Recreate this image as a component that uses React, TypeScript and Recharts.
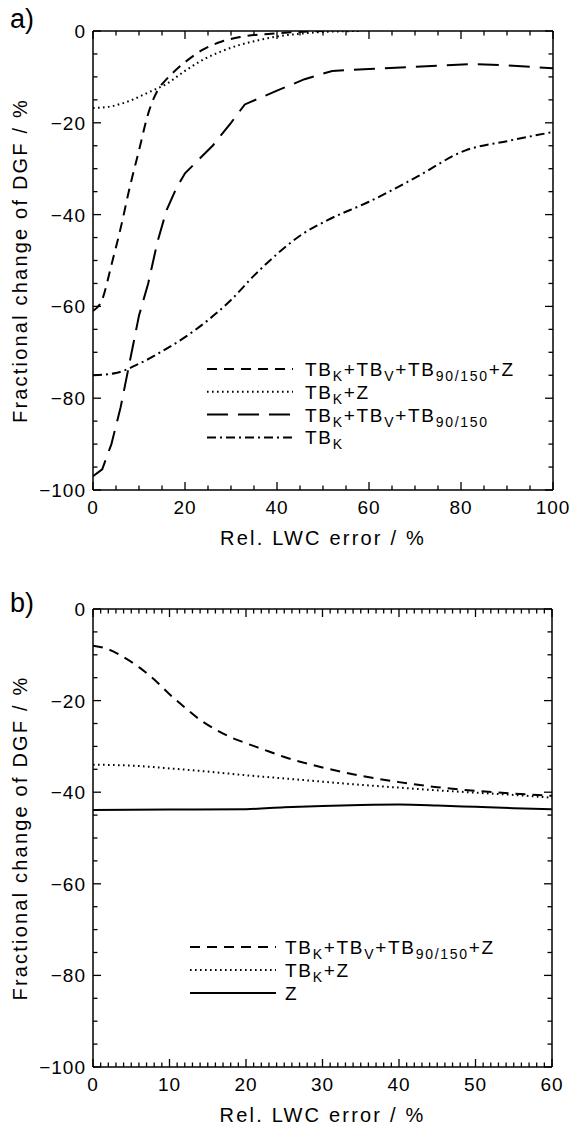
import React from "react";
import { LineChart, Line, XAxis, YAxis, Legend } from "recharts";

const FONT = "'Liberation Sans', Arial, Helvetica, sans-serif";

// ---- panel a) ----
const aAllX = [0, 2, 4, 6, 8, 10, 12, 14, 16, 18, 20, 24, 28, 32, 40, 50];
const aAllY = [-61, -58.5, -51, -43, -34, -26, -18, -13, -10.5, -8.5, -6.8, -4, -2.3, -1.3, -0.5, 0];

const aKZX = [0, 4, 8, 12, 16, 20, 24, 28, 32, 36, 40, 45, 50, 55, 58];
const aKZY = [-16.8, -16.4, -15.2, -13.4, -11.5, -8.7, -6.2, -4.4, -3, -2, -1.2, -0.6, -0.2, -0.05, 0];

const aTbX = [0, 2, 4, 6, 8, 10, 12, 14, 16, 18, 20, 22, 26, 30, 33, 40, 46, 52, 60, 70, 82, 90, 100];
const aTbY = [-97, -95.5, -90, -82, -72, -62, -55, -46, -39, -34.5, -31, -29, -25, -20, -16, -13, -10.5, -8.7, -8.3, -7.8, -7.2, -7.5, -8.1];

const aKX = [0, 5, 10, 15, 20, 25, 30, 35, 40, 45, 51, 60, 70, 81, 90, 100];
const aKY = [-75, -74.5, -72.5, -69.8, -66.7, -63, -58.6, -53.3, -48.6, -44.6, -41.2, -37.2, -32, -26, -24, -22];

const aXMajor = [0, 20, 40, 60, 80, 100];
const aXMinorStep = 5;

// ---- panel b) ----
const bAllX = [0, 2, 4, 6, 8, 10, 12, 14, 16, 18, 20, 22, 25, 30, 35, 40, 45, 50, 55, 60];
const bAllY = [-8, -8.8, -10.5, -12.7, -15.4, -18.6, -21.5, -24.2, -26.3, -28, -29.3, -30.5, -32.3, -34.6, -36.4, -37.8, -38.9, -39.7, -40.3, -40.8];

const bKZX = [0, 5, 10, 15, 20, 25, 30, 35, 40, 45, 50, 55, 60];
const bKZY = [-34, -34.2, -34.8, -35.5, -36.3, -37, -37.7, -38.4, -39, -39.6, -40.1, -40.6, -41.2];

const bZX = [0, 10, 20, 25, 30, 35, 40, 45, 50, 55, 60];
const bZY = [-43.9, -43.8, -43.7, -43.3, -43, -42.8, -42.7, -42.9, -43.2, -43.5, -43.7];

const bXMajor = [0, 10, 20, 30, 40, 50, 60];
const bXMinorStep = 1;

const yMajor = [-100, -80, -60, -40, -20, 0];
const yMinorStep = 5;

// legend labels: [text, subscript?]
type Seg = [string, boolean];
const lblAll: Seg[] = [["TB", false], ["K", true], ["+TB", false], ["V", true], ["+TB", false], ["90/150", true], ["+Z", false]];
const lblKZ: Seg[] = [["TB", false], ["K", true], ["+Z", false]];
const lblTb: Seg[] = [["TB", false], ["K", true], ["+TB", false], ["V", true], ["+TB", false], ["90/150", true]];
const lblK: Seg[] = [["TB", false], ["K", true]];
const lblZ: Seg[] = [["Z", false]];

const DASH = "10 7";
const DOT = "1.6 3.4";
const LONG = "21 10";
const DASHDOT = "9 4 2 4";

const zip = (xs: number[], ys: number[]) => xs.map((x, i) => ({ x, y: ys[i] }));

const steps = (from: number, to: number, step: number) => {
  const out: number[] = [];
  for (let v = from; v <= to + 1e-9; v += step) out.push(Math.round(v * 100) / 100);
  return out;
};

const fmt = (v: number) => (v < 0 ? `\u2212${Math.abs(v)}` : `${v}`);

function makeTick(side: "bottom" | "top" | "left" | "right", majors: number[], labels: boolean) {
  return (props: any) => {
    const { x, y, payload } = props;
    const v = payload.value;
    const major = majors.includes(v);
    const len = major ? 8 : 4.5;
    let l = { x1: x, y1: y, x2: x, y2: y };
    if (side === "bottom") l.y2 = y - len;
    if (side === "top") l.y2 = y + len;
    if (side === "left") l.x2 = x + len;
    if (side === "right") l.x2 = x - len;
    return (
      <g>
        <line {...l} stroke="#000" strokeWidth={1.3} />
        {labels && major && side === "bottom" && (
          <text x={x} y={y + 24} textAnchor="middle" fontSize={19} fontFamily={FONT} letterSpacing={1} fill="#000">
            {fmt(v)}
          </text>
        )}
        {labels && major && side === "left" && (
          <text x={x - 7} y={y + 7} textAnchor="end" fontSize={19} fontFamily={FONT} letterSpacing={1} fill="#000">
            {fmt(v)}
          </text>
        )}
      </g>
    );
  };
}

type LegendItem = { label: Seg[]; dash?: string };

function LegendBox({ items, x1, x2, tx, y0, dy, h }: { items: LegendItem[]; x1: number; x2: number; tx: number; y0: number; dy: number; h: number }) {
  return (
    <svg width={574} height={h} style={{ position: "absolute", left: 0, top: 0 }}>
      {items.map((it, i) => {
        const y = y0 + i * dy;
        return (
          <g key={i}>
            <line x1={x1} x2={x2} y1={y} y2={y} stroke="#000" strokeWidth={2} strokeDasharray={it.dash} />
            <text x={tx} y={y + 7} fontSize={19} fontFamily={FONT} letterSpacing={1.7} fill="#000">
              {it.label.map(([t, sub], j) => {
                const prevSub = j > 0 && it.label[j - 1][1];
                const d = sub ? 5 : prevSub ? -5 : 0;
                return (
                  <tspan key={j} dy={d} fontSize={sub ? 14 : 19}>
                    {t}
                  </tspan>
                );
              })}
            </text>
          </g>
        );
      })}
    </svg>
  );
}

type Series = { data: { x: number; y: number }[]; dash?: string; type: "monotone" | "linear" };

// plot box given in page pixels; axes are 1px thick boxes, so margins are reduced by 1
function Panel({
  height,
  plot,
  xMax,
  xMajor,
  xMinorStep,
  series,
  legend,
}: {
  height: number;
  plot: { left: number; right: number; top: number; bottom: number };
  xMax: number;
  xMajor: number[];
  xMinorStep: number;
  series: Series[];
  legend: React.ReactNode;
}) {
  const margin = {
    top: plot.top - 1,
    left: plot.left - 1,
    right: 574 - plot.right - 1,
    bottom: height - plot.bottom - 1,
  };
  const xTicks = steps(0, xMax, xMinorStep);
  const yTicks = steps(-100, 0, yMinorStep);
  const axisLine = { stroke: "#000", strokeWidth: 1.5 };
  const plotMidX = (plot.left + plot.right) / 2;
  const plotMidY = (plot.top + plot.bottom) / 2;
  const titleStyle = { fontSize: 20, fontFamily: FONT, letterSpacing: 2.2, fill: "#000" } as const;
  return (
    <LineChart width={574} height={height} margin={margin}>
      <XAxis
        xAxisId={0}
        type="number"
        dataKey="x"
        domain={[0, xMax]}
        allowDataOverflow
        ticks={xTicks}
        interval={0}
        tickSize={0}
        tickMargin={0}
        tickLine={false}
        axisLine={axisLine}
        height={1}
        tick={makeTick("bottom", xMajor, true)}
        label={{
          content: () => (
            <text x={plotMidX} y={plot.bottom + 55} textAnchor="middle" {...titleStyle}>
              Rel. LWC error / %
            </text>
          ),
        }}
      />
      <XAxis
        xAxisId="top"
        orientation="top"
        type="number"
        dataKey="x"
        domain={[0, xMax]}
        allowDataOverflow
        ticks={xTicks}
        interval={0}
        tickSize={0}
        tickMargin={0}
        tickLine={false}
        axisLine={axisLine}
        height={1}
        tick={makeTick("top", xMajor, false)}
      />
      <YAxis
        yAxisId={0}
        type="number"
        domain={[-100, 0]}
        allowDataOverflow
        ticks={yTicks}
        interval={0}
        tickSize={0}
        tickMargin={0}
        tickLine={false}
        axisLine={axisLine}
        width={1}
        tick={makeTick("left", yMajor, true)}
        label={{
          content: () => (
            <text x={27} y={plotMidY} textAnchor="middle" transform={`rotate(-90 27 ${plotMidY})`} {...titleStyle}>
              Fractional change of DGF / %
            </text>
          ),
        }}
      />
      <YAxis
        yAxisId="right"
        orientation="right"
        type="number"
        domain={[-100, 0]}
        allowDataOverflow
        ticks={yTicks}
        interval={0}
        tickSize={0}
        tickMargin={0}
        tickLine={false}
        axisLine={axisLine}
        width={1}
        tick={makeTick("right", yMajor, false)}
      />
      {series.map((s, i) => (
        <Line
          key={i}
          data={s.data}
          dataKey="y"
          type={s.type}
          stroke="#000"
          strokeWidth={2}
          strokeDasharray={s.dash}
          dot={false}
          activeDot={false}
          isAnimationActive={false}
        />
      ))}
      <Legend
        layout="horizontal"
        verticalAlign="middle"
        align="center"
        wrapperStyle={{ left: 0, top: 0, width: 574, height, pointerEvents: "none" }}
        content={() => legend}
      />
    </LineChart>
  );
}

export default function App() {
  const seriesA: Series[] = [
    { data: zip(aAllX, aAllY), dash: DASH, type: "monotone" },
    { data: zip(aKZX, aKZY), dash: DOT, type: "monotone" },
    { data: zip(aTbX, aTbY), dash: LONG, type: "linear" },
    { data: zip(aKX, aKY), dash: DASHDOT, type: "monotone" },
  ];
  const seriesB: Series[] = [
    { data: zip(bAllX, bAllY), dash: DASH, type: "monotone" },
    { data: zip(bKZX, bKZY), dash: DOT, type: "monotone" },
    { data: zip(bZX, bZY), type: "monotone" },
  ];
  const legendA: LegendItem[] = [
    { label: lblAll, dash: DASH },
    { label: lblKZ, dash: DOT },
    { label: lblTb, dash: LONG },
    { label: lblK, dash: DASHDOT },
  ];
  const legendB: LegendItem[] = [
    { label: lblAll, dash: DASH },
    { label: lblKZ, dash: DOT },
    { label: lblZ },
  ];
  const tagStyle: React.CSSProperties = {
    position: "absolute",
    left: 10,
    fontSize: 27,
    fontFamily: FONT,
    lineHeight: 1,
    color: "#000",
  };
  return (
    <div style={{ position: "absolute", left: 0, top: 0, width: 574, height: 1128, background: "#fff" }}>
      <div style={{ position: "absolute", left: 0, top: 0 }}>
        <Panel
          height={560}
          plot={{ left: 93, right: 553, top: 31, bottom: 490 }}
          xMax={100}
          xMajor={aXMajor}
          xMinorStep={aXMinorStep}
          series={seriesA}
          legend={<LegendBox items={legendA} x1={207} x2={293} tx={305} y0={369} dy={22.8} h={560} />}
        />
      </div>
      <div style={{ position: "absolute", left: 0, top: 560 }}>
        <Panel
          height={568}
          plot={{ left: 93, right: 552, top: 49, bottom: 507 }}
          xMax={60}
          xMajor={bXMajor}
          xMinorStep={bXMinorStep}
          series={seriesB}
          legend={<LegendBox items={legendB} x1={190} x2={276} tx={285} y0={387} dy={23} h={568} />}
        />
      </div>
      <div style={{ ...tagStyle, top: 6 }}>a)</div>
      <div style={{ ...tagStyle, top: 590 }}>b)</div>
    </div>
  );
}
